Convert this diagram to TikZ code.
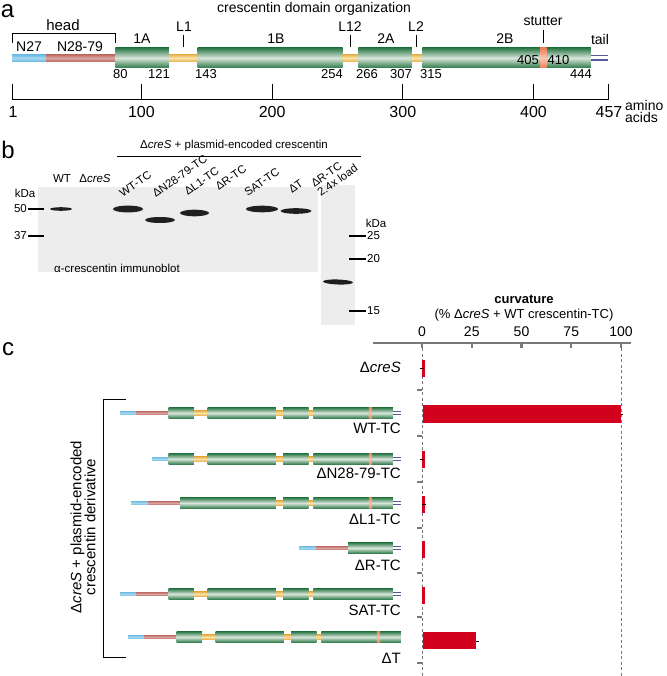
\documentclass[tikz,border=0pt]{standalone}
\usepackage{fontspec}
\setmainfont{Liberation Sans}
\definecolor{cgreen}{RGB}{42,120,70}
\definecolor{clight}{RGB}{218,230,219}
\definecolor{cyel}{RGB}{232,178,78}
\definecolor{cyellight}{RGB}{250,228,172}
\definecolor{ccyan}{RGB}{108,188,228}
\definecolor{cred}{RGB}{192,106,100}
\definecolor{cstut}{RGB}{240,128,88}
\definecolor{ctail}{RGB}{88,88,158}
\definecolor{cbar}{RGB}{210,2,30}
\definecolor{cblot}{RGB}{237,237,237}
\definecolor{caxis}{RGB}{120,120,120}
\newcommand\mkG[2]{\shade[top color=cgreen,bottom color=cgreen,middle color=clight] (#1,-\gh) rectangle (#2,\gh);}
\newcommand\mkY[2]{\shade[top color=cyel,bottom color=cyel,middle color=cyellight] (#1,-\yh) rectangle (#2,\yh);}
\newcommand\mkL[3]{\shade[top color=#1,bottom color=#1,middle color=#1!60!white] (#2,-\lh) rectangle (#3,\lh);}
\newcommand\mkS[2]{\shade[top color=cstut,bottom color=cstut,middle color=cstut!45!white] (#1,-\gh) rectangle (#2,\gh);}
\newcommand\mkT[2]{\draw[ctail,line width=\tw] (#1,-\th) -- (#2,-\th) (#1,\th) -- (#2,\th);}
\begin{document}
\begin{tikzpicture}[x=1pt,y=-1pt,
  every node/.style={inner sep=0pt},
  fBig/.style={font=\fontsize{24}{26}\selectfont},
  fA/.style={font=\fontsize{14}{16}\selectfont},
  fNum/.style={font=\fontsize{13}{15}\selectfont},
  fAx/.style={font=\fontsize{16}{18}\selectfont},
  fB/.style={font=\fontsize{11.5}{13}\selectfont},
  fBr/.style={font=\fontsize{11.3}{11.3}\selectfont, anchor=south west, rotate=35, align=left},
  fC/.style={font=\fontsize{15}{17}\selectfont},
  fCax/.style={font=\fontsize{14}{16}\selectfont},
  band/.style={fill=black!88},
  ladder/.style={line width=2},
  axisln/.style={draw=caxis,line width=2.2},
  dashln/.style={draw=caxis,line width=1,dash pattern=on 3pt off 2.5pt},
  sepln/.style={draw=caxis,line width=1.2},
  errln/.style={draw=black,line width=0.6}]
\useasboundingbox (0,0) rectangle (666,676);
\fill[white] (0,0) rectangle (666,676);

% ================= part a =================
\node[fBig] (la) at (7.5,11.5) {a};
\node[fA] (title) at (314,8.5) {crescentin domain organization};
\draw[line width=0.9] (12,43) -- (12,33) -- (115,33) -- (115,43);
\node[fA,font=\fontsize{15}{17}\selectfont] (head) at (63,25) {head};
\node[fA] (n27) at (29,47) {N27};
\node[fA] (n2879) at (80,47) {N28-79};
\node[fA] (d1a) at (142,39) {1A};
\node[fA] (dl1) at (184,27) {L1};
\node[fA] (d1b) at (276,39) {1B};
\node[fA] (dl12) at (350,27) {L12};
\node[fA] (d2a) at (386,39) {2A};
\node[fA] (dl2) at (416,27) {L2};
\node[fA] (d2b) at (505,39) {2B};
\node[fA] (dst) at (543,21) {stutter};
\node[fA] (dtail) at (600,39) {tail};
\draw[line width=0.9] (183,35) -- (183,47);
\draw[line width=0.9] (350.5,35) -- (350.5,47);
\draw[line width=0.9] (416.5,35) -- (416.5,47);
\draw[line width=0.9] (543,30) -- (543,43);

\begin{scope}[shift={(0,58)}]
  \def\gh{10}\def\yh{3.6}\def\lh{3.4}\def\th{2.2}\def\tw{1.4}
  \mkL{ccyan}{12}{46}
  \mkL{cred}{46}{115.25}
  \mkG{115.25}{168.83}
  \mkY{168.83}{197.58}
  \mkG{197.58}{342.65}
  \mkY{342.65}{358.33}
  \mkG{358.33}{411.91}
  \mkY{411.91}{422.37}
  \mkG{422.37}{590.96}
  \mkS{540}{546.5}
  \mkT{590.96}{608}
\end{scope}
\node[fNum,anchor=east] (n405) at (539,60) {405};
\node[fNum,anchor=west] (n410) at (547.5,60) {410};
\node[fNum,anchor=west] (n80) at (113,74) {80};
\node[fNum,anchor=east] (n121) at (170,74) {121};
\node[fNum,anchor=west] (n143) at (195,74) {143};
\node[fNum,anchor=east] (n254) at (343,74) {254};
\node[fNum,anchor=west] (n266) at (356,74) {266};
\node[fNum,anchor=east] (n307) at (412,74) {307};
\node[fNum,anchor=west] (n315) at (420,74) {315};
\node[fNum,anchor=east] (n444) at (592,74) {444};

\draw[line width=1] (12,100) -- (608,100);
\foreach \x in {12,141.4,272.1,402.8,533.5,608} \draw[line width=1] (\x,84) -- (\x,100);
\node[fAx] (s1) at (13,112) {1};
\node[fAx] (s100) at (141.4,112) {100};
\node[fAx] (s200) at (272.1,112) {200};
\node[fAx] (s300) at (402.8,112) {300};
\node[fAx] (s400) at (533.5,112) {400};
\node[fAx] (s457) at (609,112) {457};
\node[fA,anchor=west] (amino) at (625,105) {amino};
\node[fA,anchor=west] (acids) at (625,117) {acids};

% ================= part b =================
\node[fBig] (lb) at (8,150) {b};
\node[fB] (hdr) at (234,146) {Δ\textit{creS} + plasmid-encoded crescentin};
\draw[line width=0.9] (117,156) -- (361,156);
\fill[cblot] (38,187) rectangle (318,272);
\fill[cblot] (321,185) rectangle (355,325);
\node[fB] (wt) at (62,179) {WT};
\node[fB] (dcres) at (95,179) {Δ\textit{creS}};
\node[fBr] (r1) at (123,198) {WT-TC};
\node[fBr] (r2) at (156,198) {ΔN28-79-TC};
\node[fBr] (r3) at (188,196) {ΔL1-TC};
\node[fBr] (r4) at (219,191) {ΔR-TC};
\node[fBr] (r5) at (248,197) {SAT-TC};
\node[fBr] (r6) at (292,194) {ΔT};
\node[fBr] (r7) at (321,197) {ΔR-TC\\2.4x load};
\node[fB] (kda1) at (25,193) {kDa};
\node[fB,anchor=east] (k50) at (27,209) {50};
\node[fB,anchor=east] (k37) at (27,236) {37};
\draw[ladder] (28,209) -- (44,209);
\draw[ladder] (28,236) -- (44,236);
\node[fB] (kda2) at (376,223) {kDa};
\node[fB,anchor=west] (k25) at (367,236) {25};
\node[fB,anchor=west] (k20) at (367,259) {20};
\node[fB,anchor=west] (k15) at (367,311) {15};
\draw[ladder] (349,236) -- (366,236);
\draw[ladder] (349,259) -- (366,259);
\draw[ladder] (349,311) -- (366,311);
\node[fB,anchor=west] (immuno) at (54,268) {α-crescentin immunoblot};
\fill[band] (61,209) ellipse (11 and 1.8);
\fill[band] (128,209) ellipse (15 and 3.4);
\fill[band] (160,220) ellipse (15 and 3);
\fill[band] (194.5,213) ellipse (14.5 and 3.3);
\fill[band] (262,209) ellipse (16 and 3.3);
\fill[band] (296,211) ellipse (15.5 and 2.8);
\fill[band, rotate around={-2:(338,282)}] (338,282) ellipse (15 and 2.5);

% ================= part c =================
\node[fBig] (lc) at (8,349) {c};
\node[font=\bfseries\fontsize{13}{15}\selectfont] (curv) at (524,299) {curvature};
\node[font=\fontsize{13}{15}\selectfont] (curv2) at (524,315) {(\% Δ\textit{creS} + WT crescentin-TC)};
\node[fCax] (t0) at (422,332) {0};
\node[fCax] (t25) at (471.75,332) {25};
\node[fCax] (t50) at (521.5,332) {50};
\node[fCax] (t75) at (571.25,332) {75};
\node[fCax] (t100) at (621,332) {100};
\draw[axisln] (373,343) -- (631,343);
\foreach \x in {422,471.75,521.5,571.25,621} \draw[axisln] (\x,343) -- (\x,348);
\draw[dashln] (422,348) -- (422,676);
\draw[dashln] (621,348) -- (621,676);
\foreach \y in {390,436,482,528,573,617,663} \draw[sepln] (417,\y) -- (422,\y);

\fill[cbar] (422.5,405) rectangle (621,423);
\fill[cbar] (422.5,632) rectangle (476,649);
\foreach \y in {368,459,504,549,595} \fill[cbar] (421.5,\y-8.5) rectangle (424.5,\y+8.5);
\draw[errln] (420,368) -- (424,368);
\draw[errln] (420,459) -- (424,459);
\draw[errln] (422,504) -- (426,504);
\draw[errln] (621,414) -- (623,414);
\draw[errln] (476,641) -- (479,641);

\node[fC,anchor=east] (ccres) at (401,367) {Δ\textit{creS}};
\node[fC,anchor=east] (cwt) at (401,428) {WT-TC};
\node[fC,anchor=east] (cn) at (401,473) {ΔN28-79-TC};
\node[fC,anchor=east] (cl1) at (401,519) {ΔL1-TC};
\node[fC,anchor=east] (cr) at (401,565) {ΔR-TC};
\node[fC,anchor=east] (csat) at (401,610) {SAT-TC};
\node[fC,anchor=east] (ct) at (401,658) {ΔT};

\draw[line width=1] (126,399) -- (103,399) -- (103,657) -- (126,657);
\node[font=\fontsize{15}{14}\selectfont, rotate=90, align=center] (vlab) at (83,527) {Δ\textit{creS} + plasmid-encoded\\crescentin derivative};

\def\gh{5.5}\def\yh{2.3}\def\lh{1.9}\def\th{1.3}\def\tw{0.9}
% WT-TC
\begin{scope}[shift={(0,413)}]
  \mkL{ccyan}{120}{136}\mkL{cred}{136}{168.6}
  \mkG{168.6}{193.9}\mkY{193.9}{207.5}\mkG{207.5}{275.8}\mkY{275.8}{283.2}
  \mkG{283.2}{308.5}\mkY{308.5}{313.4}\mkG{313.4}{392.9}\mkS{368.9}{372}\mkT{392.9}{400.9}
\end{scope}
% dN28-79-TC
\begin{scope}[shift={(0,459)}]
  \mkL{ccyan}{152}{168.6}
  \mkG{168.6}{193.9}\mkY{193.9}{207.5}\mkG{207.5}{275.8}\mkY{275.8}{283.2}
  \mkG{283.2}{308.5}\mkY{308.5}{313.4}\mkG{313.4}{392.9}\mkS{368.9}{372}\mkT{392.9}{400.9}
\end{scope}
% dL1-TC
\begin{scope}[shift={(0,503)}]
  \mkL{ccyan}{131}{148}\mkL{cred}{148}{180}
  \mkG{180}{275.8}\mkY{275.8}{283.2}
  \mkG{283.2}{308.5}\mkY{308.5}{313.4}\mkG{313.4}{392.9}\mkS{368.9}{372}\mkT{392.9}{400.9}
\end{scope}
% dR-TC
\begin{scope}[shift={(0,548)}]
  \mkL{ccyan}{299}{316}\mkL{cred}{316}{348}
  \mkG{348}{392.9}\mkT{392.9}{400.9}
\end{scope}
% SAT-TC
\begin{scope}[shift={(0,594)}]
  \mkL{ccyan}{120}{136}\mkL{cred}{136}{168.6}
  \mkG{168.6}{193.9}\mkY{193.9}{207.5}\mkG{207.5}{275.8}\mkY{275.8}{283.2}
  \mkG{283.2}{308.5}\mkY{308.5}{313.4}\mkG{313.4}{392.9}\mkT{392.9}{400.9}
\end{scope}
% dT
\begin{scope}[shift={(8,637)}]
  \mkL{ccyan}{120}{136}\mkL{cred}{136}{168.6}
  \mkG{168.6}{193.9}\mkY{193.9}{207.5}\mkG{207.5}{275.8}\mkY{275.8}{283.2}
  \mkG{283.2}{308.5}\mkY{308.5}{313.4}\mkG{313.4}{392.9}\mkS{368.9}{372}
\end{scope}
\end{tikzpicture}
\end{document}
